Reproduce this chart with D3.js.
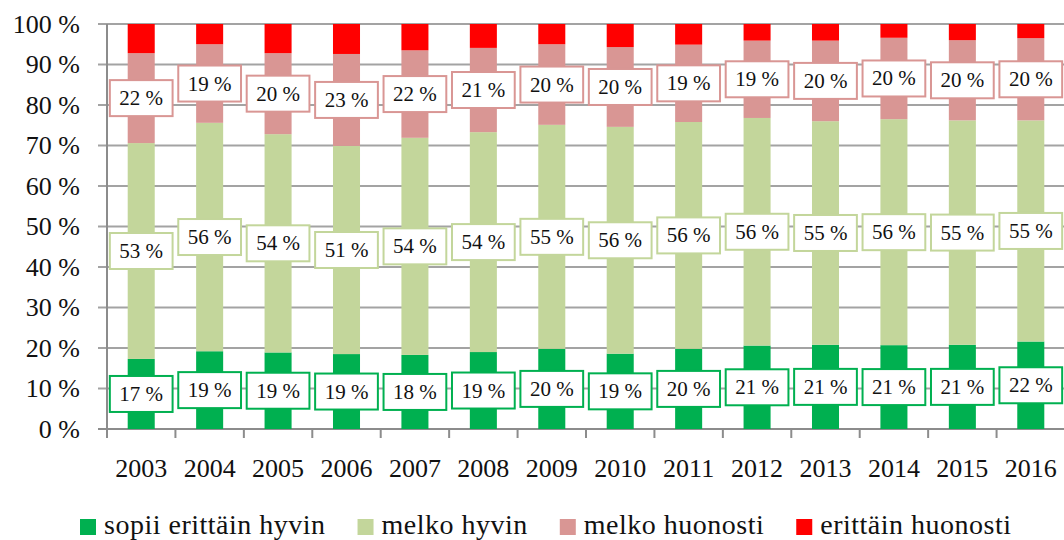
<!DOCTYPE html>
<html>
<head>
<meta charset="utf-8">
<script src="https://cdn.jsdelivr.net/npm/d3@7"></script>
<style>
  html, body { margin: 0; padding: 0; background: #fff; }
  svg { display: block; font-family: "Liberation Serif", "Times New Roman", serif; }
</style>
</head>
<body>
<svg id="chart" width="1064" height="540"></svg>
<script>
const years = ['2003','2004','2005','2006','2007','2008','2009','2010','2011','2012','2013','2014','2015','2016'];
const sopiiErittainHyvin = [17.3,19.2,18.9,18.5,18.3,19.0,19.8,18.6,19.8,20.6,20.8,20.7,20.8,21.6];
const melkoHyvin         = [53.3,56.4,53.9,51.4,53.6,54.3,55.3,56.0,56.0,56.2,55.2,55.8,55.4,54.6];
const melkoHuonosti      = [22.2,19.4,20.0,22.7,21.6,20.8,19.9,19.7,19.1,19.1,19.9,20.1,19.8,20.3];
const erittainHuonosti   = [7.2,5.0,7.2,7.4,6.5,5.9,5.0,5.7,5.1,4.1,4.1,3.4,4.0,3.5];
const seriesNames = ['sopii erittäin hyvin','melko hyvin','melko huonosti','erittäin huonosti'];
const seriesColors = ['#00B050','#C3D69B','#D99694','#FF0000'];
const labelled = [true, true, true, false];
const yTicks = [0,10,20,30,40,50,60,70,80,90,100];

const seriesValues = [sopiiErittainHyvin, melkoHyvin, melkoHuonosti, erittainHuonosti];
const table = years.map((yr, i) => {
  const row = { year: yr };
  seriesNames.forEach((n, k) => row[n] = seriesValues[k][i]);
  return row;
});

const svg = d3.select('#chart');
const x = d3.scaleBand().domain(years).range([107, 1065]).paddingInner(0.605).paddingOuter(0.3025);
const y = d3.scaleLinear().domain([0, 100]).range([429, 24]);

const gridColor = '#a3a3a3';
const axisColor = '#8c8c8c';

// gridlines
svg.append('g').selectAll('line').data(yTicks).join('line')
  .attr('x1', 98).attr('x2', 1066)
  .attr('y1', d => y(d)).attr('y2', d => y(d))
  .attr('stroke', d => d === 0 ? axisColor : gridColor)
  .attr('stroke-width', 2);

// y axis line
svg.append('line').attr('x1', 107).attr('x2', 107).attr('y1', y(100)).attr('y2', y(0) + 1)
  .attr('stroke', axisColor).attr('stroke-width', 2);

// x axis ticks at category boundaries
const r0 = x.range()[0];
const boundaries = d3.range(years.length + 1).map(i => r0 + i * x.step());
svg.append('g').selectAll('line').data(boundaries).join('line')
  .attr('x1', d => d).attr('x2', d => d)
  .attr('y1', y(0)).attr('y2', y(0) + 9)
  .attr('stroke', axisColor).attr('stroke-width', 2);

// y labels
svg.append('g').selectAll('text').data(yTicks).join('text')
  .attr('x', 80).attr('y', d => y(d) + 8.5)
  .attr('text-anchor', 'end')
  .attr('font-size', 26).attr('fill', '#111')
  .text(d => d + ' %');

// x labels
svg.append('g').selectAll('text').data(years).join('text')
  .attr('x', d => x(d) + x.bandwidth() / 2).attr('y', 477)
  .attr('text-anchor', 'middle')
  .attr('font-size', 26).attr('fill', '#111')
  .text(d => d);

// stacked bars
const stack = d3.stack().keys(seriesNames)(table);
const layers = svg.append('g').selectAll('g').data(stack).join('g')
  .attr('fill', (d, i) => seriesColors[i]);
layers.selectAll('rect').data(d => d).join('rect')
  .attr('x', d => x(d.data.year))
  .attr('width', x.bandwidth())
  .attr('y', d => y(d[1]))
  .attr('height', d => y(d[0]) - y(d[1]));

// data labels
const labelG = svg.append('g');
stack.forEach((layer, k) => {
  if (!labelled[k]) return;
  layer.forEach(d => {
    const cx = x(d.data.year) + x.bandwidth() / 2;
    const cy = y((d[0] + d[1]) / 2);
    const g = labelG.append('g');
    const rect = g.append('rect');
    const t = g.append('text')
      .attr('x', cx).attr('y', cy + 7)
      .attr('text-anchor', 'middle')
      .attr('font-size', 21).attr('fill', '#111')
      .text(Math.round(d[1] - d[0]) + ' %');
    const w = t.node().getComputedTextLength() + 19;
    const h = 36;
    rect.attr('x', cx - w / 2).attr('y', cy - h / 2)
      .attr('width', w).attr('height', h)
      .attr('fill', '#fff')
      .attr('stroke', seriesColors[k]).attr('stroke-width', 2);
  });
});

// legend
const legend = svg.append('g');
let lx = 80;
seriesNames.forEach((n, k) => {
  legend.append('rect').attr('x', lx).attr('y', 519).attr('width', 16).attr('height', 16)
    .attr('fill', seriesColors[k]);
  const t = legend.append('text').attr('x', lx + 24).attr('y', 534)
    .attr('font-size', 28).attr('letter-spacing', 0.5).attr('fill', '#111').text(n);
  lx += 24 + t.node().getComputedTextLength() + 32;
});
</script>
</body>
</html>
